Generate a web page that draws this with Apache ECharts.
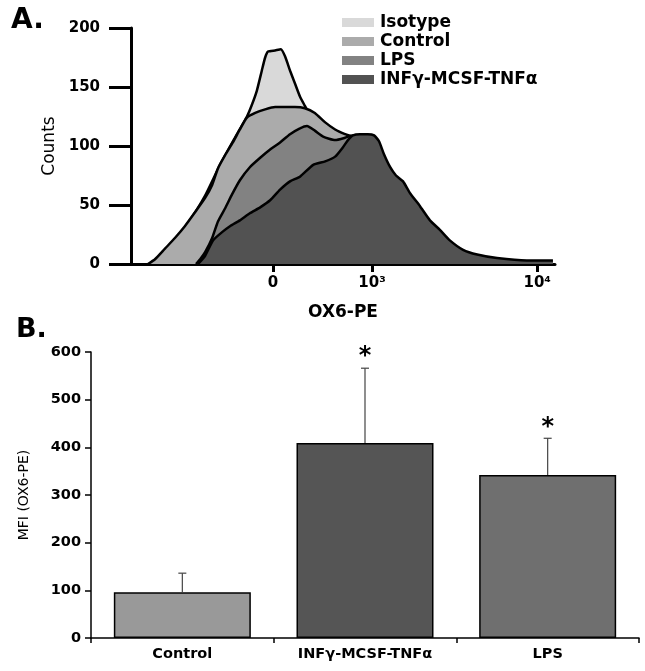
<!DOCTYPE html>
<html><head><meta charset="utf-8">
<script src="https://cdn.jsdelivr.net/npm/echarts@6/dist/echarts.min.js"></script>
<style>html,body{margin:0;padding:0;background:#fff}#c{width:645px;height:671px}</style>
</head><body><div id="c"></div>
<script>
// ---- Panel A: flow cytometry histograms (channel, counts) ----
const histNames = ['Isotype', 'Control', 'LPS', 'INFγ-MCSF-TNFα'];
const isotypeHist = [[46,0],[70,7],[106,20],[142,37],[179,58],[215,84],[251,107],[280,125],[292,135],[304,147],[316,164],[324,175],[331,180],[348,181],[362,182],[372,176],[384,164],[396,153],[408,142],[420,134],[444,118],[481,97],[529,67],[577,42],[625,20],[674,8],[722,2],[770,0]];
const controlHist = [[41,0],[58,4],[82,13],[106,22],[130,32],[155,44],[179,56],[196,67],[210,81],[227,92],[246,103],[263,114],[280,124],[300,128],[324,131],[348,133],[372,133],[396,133],[420,132],[444,128],[469,120],[493,114],[517,110],[534,108],[565,97],[601,75],[638,54],[674,33],[710,16],[746,6],[795,2],[843,0]];
const lpsHist = [[157,0],[167,4],[179,10],[196,22],[210,36],[227,47],[244,59],[263,71],[287,82],[312,90],[336,97],[360,103],[384,110],[408,115],[425,117],[444,113],[464,108],[493,105],[517,107],[534,109],[553,105],[589,88],[626,67],[662,46],[698,25],[746,8],[795,2],[843,0]];
const infHist = [[162,0],[179,7],[198,20],[220,27],[239,32],[263,37],[287,43],[312,48],[336,54],[360,63],[384,70],[408,74],[440,84],[469,87],[493,91],[512,99],[524,105],[536,109],[553,110],[572,110],[587,109],[599,104],[611,93],[626,82],[640,75],[657,70],[674,60],[698,49],[722,37],[746,29],[770,20],[802,12],[836,8],[884,5],[956,3],[1019,3]];
const histYTicks = [0, 50, 100, 150, 200];
const histXTickValues = [343, 582, 981];
const histXTickLabels = ['0', '10³', '10⁴'];

// ---- Panel B: MFI bar chart ----
const barCategories = ['Control', 'INFγ-MCSF-TNFα', 'LPS'];
const barMeans = [96, 409, 342];
const barErrors = [40, 157, 77];
const barSignif = ['', '*', '*'];

const FONT = 'DejaVu Sans';
const histFill = ['#d9d9d9', '#ababab', '#828282', '#525252'];
const barFill = ['#999999', '#555555', '#6f6f6f'];
const histData = [isotypeHist, controlHist, lpsHist, infHist];

const chart = echarts.init(document.getElementById('c'), null, {renderer: 'canvas'});

const histSeries = histNames.map((n, i) => ({
  name: n,
  type: 'line',
  xAxisIndex: 0, yAxisIndex: 0,
  data: histData[i],
  smooth: 0.18,
  showSymbol: false,
  symbol: 'none',
  itemStyle: {color: histFill[i]},
  lineStyle: {color: '#000', width: 2.5},
  areaStyle: {color: histFill[i], opacity: 1},
  z: 2 + i,
  silent: true
}));

const option = {
  animation: false,
  backgroundColor: '#fff',
  textStyle: {fontFamily: FONT},
  title: [
    {text: 'A.', left: 6, top: 2, textStyle: {fontFamily: FONT, fontSize: 28, fontWeight: 'bold', color: '#000'}},
    {text: 'B.', left: 11, top: 311, textStyle: {fontFamily: FONT, fontSize: 27, fontWeight: 'bold', color: '#000'}}
  ],
  legend: {
    data: histNames,
    orient: 'vertical',
    left: 337, top: 9,
    itemWidth: 32, itemHeight: 9, itemGap: 2,
    icon: 'rect',
    itemStyle: {borderWidth: 0},
    lineStyle: {width: 0},
    textStyle: {fontFamily: FONT, fontSize: 17, fontWeight: 'bold', color: '#000', padding: [0,0,0,1]},
    selectedMode: false
  },
  grid: [
    {left: 131, right: 90, top: 28, bottom: 407},
    {left: 91, right: 6, top: 352, bottom: 33}
  ],
  xAxis: [
    {
      type: 'value', gridIndex: 0, min: 0, max: 1024,
      splitLine: {show: false},
      axisLine: {lineStyle: {color: '#000', width: 3}},
      axisTick: {show: true, customValues: histXTickValues, length: 8, lineStyle: {color: '#000', width: 3}},
      axisLabel: {customValues: histXTickValues, margin: 12,
        formatter: v => histXTickLabels[histXTickValues.indexOf(v)] || '',
        fontFamily: FONT, fontSize: 15, fontWeight: 'bold', color: '#000'},
      name: 'OX6-PE', nameLocation: 'middle', nameGap: 40,
      nameTextStyle: {fontFamily: FONT, fontSize: 17, fontWeight: 'bold', color: '#000'}
    },
    {
      type: 'category', gridIndex: 1, data: barCategories,
      axisLine: {lineStyle: {color: '#000', width: 1.5}},
      axisTick: {show: true, length: 5, lineStyle: {color: '#000', width: 1.5}},
      axisLabel: {margin: 9, fontFamily: FONT, fontSize: 14.5, fontWeight: 'bold', color: '#000'}
    }
  ],
  yAxis: [
    {
      type: 'value', gridIndex: 0, min: 0, max: 200, interval: 50,
      splitLine: {show: false},
      axisLine: {show: true, lineStyle: {color: '#000', width: 3}},
      axisTick: {show: true, length: 22, lineStyle: {color: '#000', width: 3}},
      axisLabel: {margin: 31, fontFamily: FONT, fontSize: 15, fontWeight: 'bold', color: '#000'},
      name: 'Counts', nameLocation: 'middle', nameGap: 69,
      nameTextStyle: {fontFamily: FONT, fontSize: 17, color: '#000'}
    },
    {
      type: 'value', gridIndex: 1, min: 0, max: 600, interval: 100,
      splitLine: {show: false},
      axisLine: {show: true, lineStyle: {color: '#000', width: 1.5}},
      axisTick: {show: true, length: 6, lineStyle: {color: '#000', width: 1.5}},
      axisLabel: {margin: 10, fontFamily: FONT, fontSize: 14.5, fontWeight: 'bold', color: '#000'},
      name: 'MFI (OX6-PE)', nameLocation: 'middle', nameGap: 60,
      nameTextStyle: {fontFamily: FONT, fontSize: 14, color: '#000'}
    }
  ],
  series: [
    ...histSeries,
    {
      type: 'bar', xAxisIndex: 1, yAxisIndex: 1,
      data: barMeans.map((v, i) => ({value: v, itemStyle: {color: barFill[i]}})),
      barCategoryGap: '25%',
      itemStyle: {borderColor: '#000', borderWidth: 1.5},
      z: 2, silent: true
    },
    {
      type: 'custom', xAxisIndex: 1, yAxisIndex: 1,
      data: barMeans.map((v, i) => [i, v, v + barErrors[i]]),
      renderItem: (params, api) => {
        const i = api.value(0);
        const base = api.coord([i, api.value(1)]);
        const top = api.coord([i, api.value(2)]);
        const sig = barSignif[params.dataIndex];
        const children = [
          {type: 'line', shape: {x1: base[0], y1: base[1], x2: top[0], y2: top[1]}, style: {stroke: '#444', lineWidth: 1.2}},
          {type: 'line', shape: {x1: top[0] - 4, y1: top[1], x2: top[0] + 4, y2: top[1]}, style: {stroke: '#444', lineWidth: 1.2}}
        ];
        if (sig) {
          children.push({type: 'text', x: top[0], y: top[1] + 1,
            style: {text: sig, fontFamily: FONT, fontSize: 24, fontWeight: 'bold', fill: '#000', align: 'center', verticalAlign: 'bottom'}});
        }
        return {type: 'group', children};
      },
      z: 5, silent: true
    }
  ]
};
chart.setOption(option);
</script></body></html>
